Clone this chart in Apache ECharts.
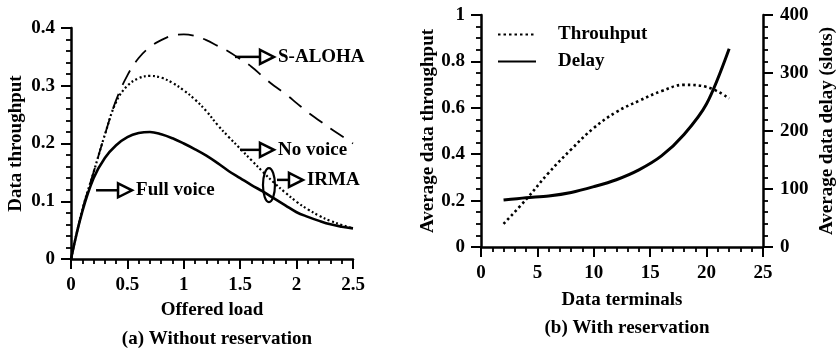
<!DOCTYPE html>
<html>
<head>
<meta charset="utf-8">
<script src="https://cdn.jsdelivr.net/npm/echarts@6/dist/echarts.min.js"></script>
<style>
  html, body { margin: 0; padding: 0; background: #fff; }
  #chart { width: 839px; height: 350px; }
</style>
</head>
<body>
<div id="chart"></div>
<script>
// (a) Without reservation
const offeredLoad = [0, 0.1, 0.2, 0.3, 0.4, 0.5, 0.6, 0.7, 0.8, 0.9, 1.0, 1.1, 1.2, 1.3, 1.4, 1.5, 1.6, 1.7, 1.8, 1.9, 2.0, 2.1, 2.2, 2.3, 2.4, 2.5];
const sAloha    = [0, 0.085, 0.15, 0.215, 0.275, 0.318, 0.348, 0.367, 0.379, 0.387, 0.389, 0.386, 0.379, 0.369, 0.359, 0.346, 0.333, 0.316, 0.300, 0.286, 0.270, 0.254, 0.240, 0.226, 0.213, 0.200];
const noVoice   = [0, 0.085, 0.15, 0.215, 0.272, 0.300, 0.313, 0.317, 0.314, 0.305, 0.292, 0.276, 0.256, 0.232, 0.211, 0.191, 0.171, 0.151, 0.132, 0.115, 0.099, 0.086, 0.075, 0.066, 0.059, 0.053];
const fullVoice = [0, 0.082, 0.14, 0.175, 0.197, 0.211, 0.218, 0.220, 0.216, 0.209, 0.200, 0.190, 0.179, 0.166, 0.152, 0.140, 0.128, 0.117, 0.105, 0.093, 0.081, 0.073, 0.066, 0.060, 0.056, 0.053];

// (b) With reservation
const terminals  = [2, 4, 6, 8, 10, 12, 14, 16, 18, 20, 22];
const throughput = [0.10, 0.205, 0.32, 0.421, 0.513, 0.582, 0.630, 0.672, 0.699, 0.690, 0.640];
const delay      = [81, 85, 88, 94, 104, 116, 133, 157, 194, 247, 342];

const FONT = "'Liberation Serif', 'Times New Roman', serif";
const txt = (size) => ({ fontFamily: FONT, fontWeight: "bold", fontSize: size, color: "#000" });

const pairs = (xs, ys) => xs.map((x, i) => [x, ys[i]]);

// main axis: line, long ticks, labels, name
const mainAxis = (opts) => Object.assign({
  type: "value",
  axisLine: { show: true, onZero: false, lineStyle: { color: "#000", width: 2.5 } },
  axisTick: { show: true, inside: false, length: 10, lineStyle: { color: "#000", width: 2 } },
  splitLine: { show: false },
  axisLabel: Object.assign(txt(19), { margin: 16 }),
  nameTextStyle: txt(19),
  nameLocation: "middle",
}, opts);

// minorTick breaks the tick drawing here, so short ticks come from
// bare axes living in a twin grid laid over the same rect
const minorAxis = (opts) => Object.assign({
  type: "value",
  axisLine: { show: false, onZero: false },
  axisTick: { show: true, inside: false, length: 5, lineStyle: { color: "#000", width: 1.8 } },
  axisLabel: { show: false },
  splitLine: { show: false },
}, opts);

const rectA = { left: 71, top: 28, width: 282, height: 231 };
const rectB = { left: 481, top: 15, width: 282, height: 232 };

const chart = echarts.init(document.getElementById("chart"));

const option = {
  backgroundColor: "#fff",
  animation: false,
  title: [
    { text: "(a) Without reservation", left: 212, top: 325, textAlign: "center", textStyle: txt(19) },
    { text: "(b) With reservation", left: 622, top: 314, textAlign: "center", textStyle: txt(19) },
  ],
  grid: [rectA, rectB, Object.assign({}, rectA), Object.assign({}, rectB)],
  legend: {
    orient: "vertical",
    left: 497,
    top: 25,
    padding: 0,
    itemWidth: 38,
    itemHeight: 14,
    itemGap: 8,
    itemStyle: { opacity: 0 },
    textStyle: Object.assign(txt(19), { padding: [0, 0, 0, 17] }),
    data: ["Throuhput", "Delay"],
  },
  xAxis: [
    mainAxis({ gridIndex: 0, position: "bottom", min: 0, max: 2.5, interval: 0.5, name: "Offered load", nameGap: 42, axisLabel: Object.assign(txt(19), { margin: 17 }) }),
    mainAxis({ gridIndex: 1, position: "bottom", min: 0, max: 25, interval: 5, name: "Data terminals", nameGap: 44, axisLabel: Object.assign(txt(19), { margin: 17 }) }),
    minorAxis({ gridIndex: 2, position: "bottom", min: 0, max: 2.5, interval: 0.1 }),
    minorAxis({ gridIndex: 3, position: "bottom", min: 0, max: 25, interval: 1 }),
  ],
  yAxis: [
    mainAxis({ gridIndex: 0, position: "left", min: 0, max: 0.4, interval: 0.1, name: "Data throughput", nameGap: 45 }),
    mainAxis({ gridIndex: 1, position: "left", min: 0, max: 1, interval: 0.2, name: "Average data throughput", nameGap: 41 }),
    mainAxis({ gridIndex: 1, position: "right", min: 0, max: 400, interval: 100, name: "Average data delay (slots)", nameGap: 55, axisLabel: Object.assign(txt(19), { margin: 17 }) }),
    minorAxis({ gridIndex: 2, position: "left", min: 0, max: 0.4, interval: 0.02 }),
    minorAxis({ gridIndex: 3, position: "left", min: 0, max: 1, interval: 0.05 }),
    minorAxis({ gridIndex: 3, position: "right", min: 0, max: 400, interval: 20 }),
  ],
  series: [
    {
      name: "S-ALOHA", type: "line", xAxisIndex: 0, yAxisIndex: 0,
      data: pairs(offeredLoad, sAloha), smooth: 0.4, symbol: "none",
      itemStyle: { color: "#000" },
      lineStyle: { color: "#000", width: 1.8, type: [16, 10] },
    },
    {
      name: "No voice", type: "line", xAxisIndex: 0, yAxisIndex: 0,
      data: pairs(offeredLoad, noVoice), smooth: 0.4, symbol: "none",
      itemStyle: { color: "#000" },
      lineStyle: { color: "#000", width: 2.2, type: [2, 2.5] },
    },
    {
      name: "Full voice", type: "line", xAxisIndex: 0, yAxisIndex: 0,
      data: pairs(offeredLoad, fullVoice), smooth: 0.4, symbol: "none",
      itemStyle: { color: "#000" },
      lineStyle: { color: "#000", width: 2.6 },
    },
    {
      name: "Throuhput", type: "line", xAxisIndex: 1, yAxisIndex: 1,
      data: pairs(terminals, throughput), smooth: 0.4, symbol: "none",
      itemStyle: { color: "#000" },
      lineStyle: { color: "#000", width: 2.6, type: [2.5, 3] },
    },
    {
      name: "Delay", type: "line", xAxisIndex: 1, yAxisIndex: 2,
      data: pairs(terminals, delay), smooth: 0.3, symbol: "none",
      itemStyle: { color: "#000" },
      lineStyle: { color: "#000", width: 3 },
    },
  ],
};

chart.setOption(option);

// annotations: arrow + label, anchored in data coordinates of the left plot
const notes = [
  { label: "S-ALOHA", at: [1.454, 0.350], lineLen: 25 },
  { label: "No voice", at: [1.498, 0.189], lineLen: 20 },
  { label: "IRMA", at: [1.826, 0.137], lineLen: 12 },
  { label: "Full voice", at: [0.222, 0.119], lineLen: 22 },
];
const irmaRing = [1.755, 0.128];

const graphics = [];
notes.forEach((n) => {
  const p = chart.convertToPixel({ xAxisIndex: 0, yAxisIndex: 0 }, n.at);
  const x = p[0], y = p[1];
  const tx = x + n.lineLen;
  graphics.push({
    type: "line", shape: { x1: x, y1: y, x2: tx, y2: y },
    style: { stroke: "#000", lineWidth: 2.5 }, z: 10,
  });
  graphics.push({
    type: "polygon", shape: { points: [[tx, y - 7], [tx + 14, y], [tx, y + 7]] },
    style: { fill: "#fff", stroke: "#000", lineWidth: 2.5 }, z: 10,
  });
  graphics.push({
    type: "text", x: tx + 18, y: y,
    style: { text: n.label, font: "bold 19px " + FONT, fill: "#000", verticalAlign: "middle", textAlign: "left" }, z: 10,
  });
});
const rp = chart.convertToPixel({ xAxisIndex: 0, yAxisIndex: 0 }, irmaRing);
graphics.push({
  type: "ellipse", shape: { cx: rp[0], cy: rp[1], rx: 6, ry: 17 },
  style: { fill: "none", stroke: "#000", lineWidth: 2.2 }, z: 10,
});

chart.setOption({ graphic: graphics });
</script>
</body>
</html>
